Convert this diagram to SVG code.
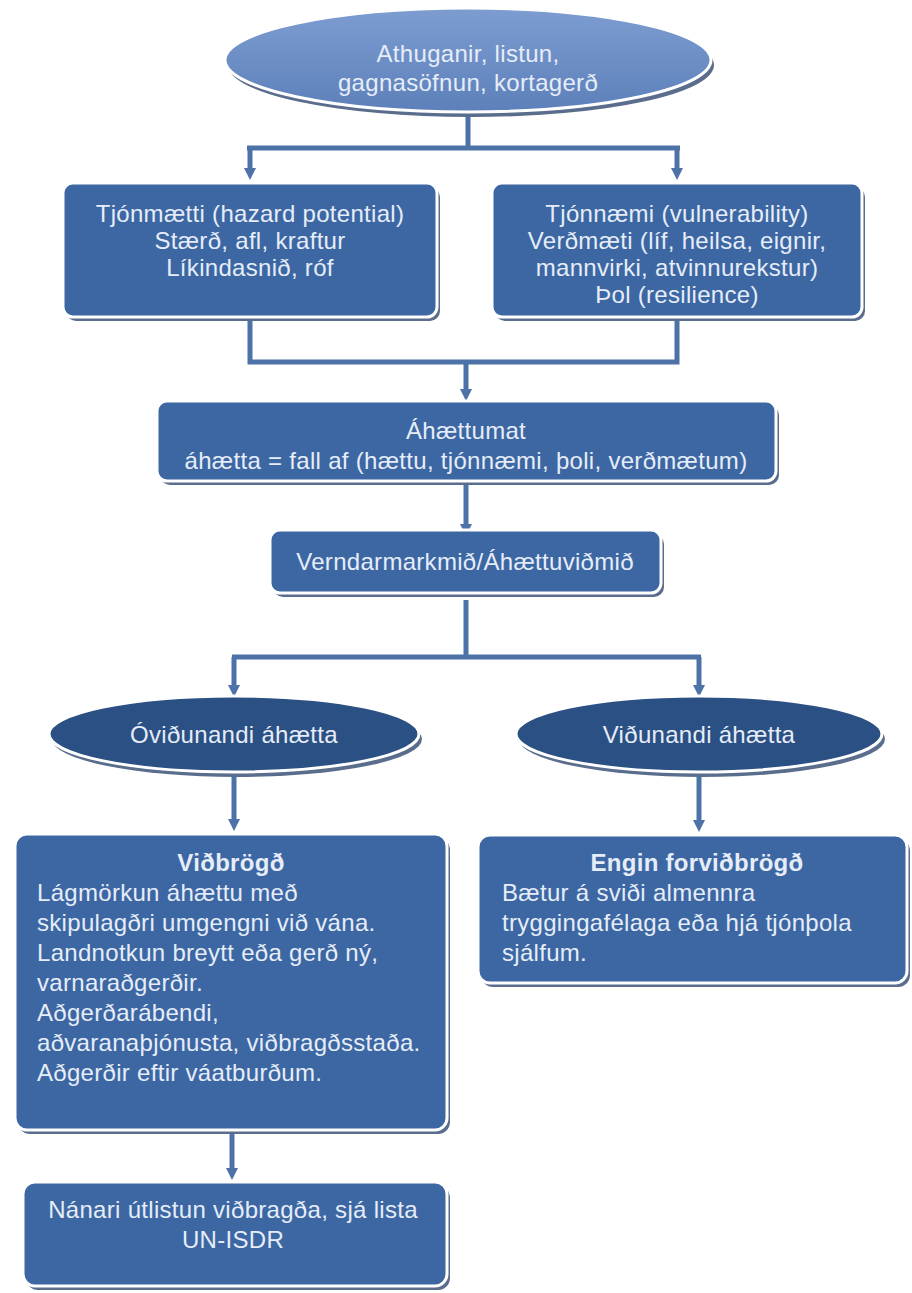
<svg xmlns="http://www.w3.org/2000/svg" width="912" height="1293" viewBox="0 0 912 1293">
  <defs>
    <linearGradient id="topGrad" x1="0" y1="0" x2="0" y2="1">
      <stop offset="0" stop-color="#7d9dd1"/>
      <stop offset="1" stop-color="#5d80ba"/>
    </linearGradient>
    <marker id="arrow" viewBox="0 0 12 12" refX="4" refY="6" markerWidth="12" markerHeight="12" markerUnits="userSpaceOnUse" orient="auto">
      <path d="M0,0 L12,6 L0,12 z" fill="#4d72a8"/>
    </marker>
    <style>
      .shadow { fill: #5a6d8c; }
      .box { fill: #3c67a3; stroke: #ffffff; stroke-width: 3; }
      .dark { fill: #2b5083; stroke: #ffffff; stroke-width: 3; }
      .top { fill: url(#topGrad); stroke: #ffffff; stroke-width: 3; }
      .t { font-family: "Liberation Sans", Arial, sans-serif; font-size: 24px; fill: #e6edf8; letter-spacing: 0.3px; }
      .c { text-anchor: middle; }
      .b { font-weight: bold; }
      .conn { fill: none; stroke: #4d72a8; stroke-width: 5; }
    </style>
  </defs>
  <rect width="912" height="1293" fill="#ffffff"/>

  <g id="connectors">
    <path class="conn" d="M468,112 V148 M247,148 H680"/>
    <path class="conn" d="M250,148 V172" marker-end="url(#arrow)"/>
    <path class="conn" d="M677,148 V172" marker-end="url(#arrow)"/>
    <path class="conn" d="M250,318 V362 H677 V318"/>
    <path class="conn" d="M466,362 V393" marker-end="url(#arrow)"/>
    <path class="conn" d="M466,484 V528" marker-end="url(#arrow)"/>
    <path class="conn" d="M466,600 V657 M232,657 H701"/>
    <path class="conn" d="M234,657 V689" marker-end="url(#arrow)"/>
    <path class="conn" d="M699,657 V689" marker-end="url(#arrow)"/>
    <path class="conn" d="M234,772 V823" marker-end="url(#arrow)"/>
    <path class="conn" d="M699,772 V824" marker-end="url(#arrow)"/>
    <path class="conn" d="M232,1131 V1172" marker-end="url(#arrow)"/>
  </g>

  <g id="node-athuganir">
    <ellipse class="shadow" cx="471" cy="65" rx="243" ry="52"/>
    <ellipse class="top" cx="468" cy="60" rx="243" ry="52"/>
    <text class="t c" x="468" y="62">Athuganir, listun,</text>
    <text class="t c" x="468" y="91">gagnasöfnun, kortagerð</text>
  </g>

  <g id="node-tjonmaetti">
    <rect class="shadow" x="66" y="187" width="374" height="134" rx="10"/>
    <rect class="box" x="63" y="183" width="374" height="134" rx="10"/>
    <text class="t c" x="250" y="222">Tjónmætti (hazard potential)</text>
    <text class="t c" x="250" y="249">Stærð, afl, kraftur</text>
    <text class="t c" x="250" y="276">Líkindasnið, róf</text>
  </g>

  <g id="node-tjonnaemi">
    <rect class="shadow" x="495" y="187" width="370" height="134" rx="10"/>
    <rect class="box" x="492" y="183" width="370" height="134" rx="10"/>
    <text class="t c" x="677" y="222">Tjónnæmi (vulnerability)</text>
    <text class="t c" x="677" y="249">Verðmæti (líf, heilsa, eignir,</text>
    <text class="t c" x="677" y="276">mannvirki,  atvinnurekstur)</text>
    <text class="t c" x="677" y="303">Þol (resilience)</text>
  </g>

  <g id="node-ahaettumat">
    <rect class="shadow" x="160" y="405" width="619" height="80" rx="10"/>
    <rect class="box" x="157" y="401" width="619" height="80" rx="10"/>
    <text class="t c" x="466" y="439">Áhættumat</text>
    <text class="t c" x="466" y="469">áhætta = fall af (hættu, tjónnæmi, þoli, verðmætum)</text>
  </g>

  <g id="node-verndarmarkmid">
    <rect class="shadow" x="273" y="534" width="391" height="63" rx="10"/>
    <rect class="box" x="270" y="530" width="391" height="63" rx="10"/>
    <text class="t c" x="465" y="570">Verndarmarkmið/Áhættuviðmið</text>
  </g>

  <g id="node-oviðunandi">
    <ellipse class="shadow" cx="237" cy="739" rx="185" ry="38"/>
    <ellipse class="dark" cx="234" cy="734" rx="185" ry="38"/>
    <text class="t c" x="234" y="743">Óviðunandi áhætta</text>
  </g>

  <g id="node-vidunandi">
    <ellipse class="shadow" cx="702" cy="739" rx="183" ry="38"/>
    <ellipse class="dark" cx="699" cy="734" rx="183" ry="38"/>
    <text class="t c" x="699" y="743">Viðunandi áhætta</text>
  </g>

  <g id="node-vidbrogd">
    <rect class="shadow" x="18" y="838" width="432" height="296" rx="12"/>
    <rect class="box" x="15" y="834" width="432" height="296" rx="12"/>
    <text class="t c b" x="231" y="871">Viðbrögð</text>
    <text class="t" x="37" y="901">Lágmörkun áhættu með</text>
    <text class="t" x="37" y="931">skipulagðri umgengni við vána.</text>
    <text class="t" x="37" y="961">Landnotkun breytt eða gerð ný,</text>
    <text class="t" x="37" y="991">varnaraðgerðir.</text>
    <text class="t" x="37" y="1021">Aðgerðarábendi,</text>
    <text class="t" x="37" y="1051">aðvaranaþjónusta,  viðbragðsstaða.</text>
    <text class="t" x="37" y="1081">Aðgerðir eftir váatburðum.</text>
  </g>

  <g id="node-engin">
    <rect class="shadow" x="481" y="839" width="429" height="148" rx="12"/>
    <rect class="box" x="478" y="835" width="429" height="148" rx="12"/>
    <text class="t c b" x="697" y="871">Engin forviðbrögð</text>
    <text class="t" x="502" y="901">Bætur á sviði almennra</text>
    <text class="t" x="502" y="931">tryggingafélaga eða hjá tjónþola</text>
    <text class="t" x="502" y="961">sjálfum.</text>
  </g>

  <g id="node-nanari">
    <rect class="shadow" x="26" y="1186" width="424" height="104" rx="12"/>
    <rect class="box" x="23" y="1182" width="424" height="104" rx="12"/>
    <text class="t c" x="233" y="1218">Nánari útlistun viðbragða, sjá lista</text>
    <text class="t c" x="233" y="1248">UN-ISDR</text>
  </g>
</svg>
